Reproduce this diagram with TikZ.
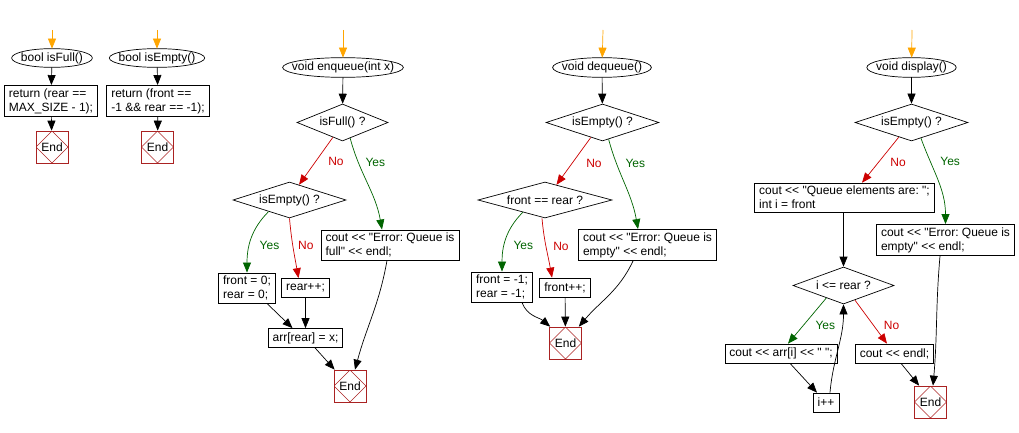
\documentclass[tikz,border=0pt]{standalone}
\usepackage{fontspec}
\newfontfamily\flowfont{Liberation Sans}
\usetikzlibrary{arrows.meta,shapes.geometric,calc}
\definecolor{endred}{RGB}{170,34,34}
\definecolor{yesgreen}{RGB}{0,100,0}
\definecolor{nored}{RGB}{204,0,0}
\definecolor{entryorange}{RGB}{255,165,0}
\frenchspacing

\begin{document}
\begin{tikzpicture}[x=1pt, y=1pt, line width=0.7pt,
    font=\flowfont\fontsize{12}{14}\selectfont,
    func/.style = {inner xsep=9pt, inner ysep=0pt, minimum height=19pt},
    stmt/.style = {draw, align=left, inner xsep=4.5pt, inner ysep=3pt, minimum height=19pt},
    decision/.style = {draw, diamond, inner sep=0pt},
    finish/.style = {draw=endred, minimum size=32pt, inner sep=0pt,
        path picture={\draw[endred, line width=0.5pt] (path picture bounding box.north) -- (path picture bounding box.east)
            -- (path picture bounding box.south) -- (path picture bounding box.west) -- cycle;}},
    flow/.style = {-{Triangle[length=10pt,width=8pt]}},
    entry/.style = {flow, entryorange},
    yesflow/.style = {flow, yesgreen},
    noflow/.style = {flow, nored}]
    \useasboundingbox (0,0) rectangle (1019,-433);

    % bool isFull()
    \coordinate (fullin) at (52,-30);
    \node[func, minimum height=18pt] (fullstart) at (52,-58) {bool isFull()};
    \node[stmt] (fullret) at (51,-101) {return (rear ==\\MAX\_SIZE - 1);};
    \node[finish] (fullend) at (52,-147) {End};

    % bool isEmpty()
    \coordinate (emptyin) at (157,-30);
    \node[func, minimum height=18pt] (emptystart) at (157,-58) {bool isEmpty()};
    \node[stmt] (emptyret) at (158,-101) {return (front ==\\-1 \&\& rear == -1);};
    \node[finish] (emptyend) at (157.5,-147) {End};

    % void enqueue(int x)
    \coordinate (enqin) at (343,-30);
    \node[func] (enqstart) at (343,-67.5) {void enqueue(int x)};
    \node[decision, minimum width=91pt, minimum height=37pt, shape aspect=2.46] (enqfull) at (342.5,-122.5) {isFull() ?};
    \node[decision, minimum width=113pt, minimum height=36pt, shape aspect=3.1] (enqempty) at (289.5,-200) {isEmpty() ?};
    \node[stmt] (enqerr) at (390,-245) {cout << "Error: Queue is\\full" << endl;};
    \node[stmt] (enqinit) at (247,-288) {front = 0;\\rear = 0;};
    \node[stmt] (enqrear) at (305.5,-288) {rear++;};
    \node[stmt] (enqset) at (305.5,-338) {arr[rear] = x;};
    \node[finish] (enqend) at (350,-386) {End};

    % void dequeue()
    \coordinate (deqin) at (603,-30);
    \node[func] (deqstart) at (602,-67.5) {void dequeue()};
    \node[decision, minimum width=113pt, minimum height=37pt, shape aspect=3.05] (deqempty) at (602.5,-122.5) {isEmpty() ?};
    \node[decision, minimum width=134pt, minimum height=36pt, shape aspect=3.7] (deqone) at (545,-200) {front == rear ?};
    \node[stmt] (deqerr) at (647.5,-245) {cout << "Error: Queue is\\empty" << endl;};
    \node[stmt] (deqreset) at (502,-287) {front = -1;\\rear = -1;};
    \node[stmt] (deqfront) at (565,-287.5) {front++;};
    \node[finish] (deqend) at (565.5,-343) {End};

    % void display()
    \coordinate (dispin) at (912,-30);
    \node[func] (dispstart) at (911.5,-67.5) {void display()};
    \node[decision, minimum width=113pt, minimum height=37pt, shape aspect=3.05] (dispempty) at (911.5,-122.5) {isEmpty() ?};
    \node[stmt] (dispinit) at (844.5,-197.5) {cout << "Queue elements are: ";\\int i = front};
    \node[stmt] (disperr) at (945.5,-240) {cout << "Error: Queue is\\empty" << endl;};
    \node[decision, minimum width=101pt, minimum height=37pt, shape aspect=2.73] (displ) at (843.5,-285.5) {i <= rear ?};
    \node[stmt] (dispprint) at (781,-353.5) {cout << arr[i] << " ";};
    \node[stmt] (dispendl) at (894.5,-353.5) {cout << endl;};
    \node[stmt] (dispinc) at (826,-402.5) {i++};
    \node[finish] (dispend) at (930.5,-402) {End};

    \foreach \f in {fullstart, emptystart, enqstart, deqstart, dispstart}
        \draw let \p1 = ($(\f.east)-(\f.west)$), \p2 = ($(\f.north)-(\f.south)$) in
            (\f.center) ellipse [x radius=0.5*\x1, y radius=0.5*\y2];

    \path[entry] (fullin) edge (fullstart)
        (emptyin) edge (emptystart)
        (enqin) edge (enqstart)
        (deqin) edge (deqstart)
        (dispin) edge (dispstart);

    \path[flow] (fullstart) edge (fullret)
        (fullret) edge (fullend)
        (emptystart) edge (emptyret)
        (emptyret) edge (emptyend);

    \path[flow] (enqstart) edge (enqfull);
    \path[noflow] (enqfull.237) edge node[xshift=20pt] {No} (enqempty.58);
    \path[yesflow] (enqfull.296) edge[out=-75, in=100] node[pos=0.25, xshift=17pt] {Yes} ([xshift=-8pt]enqerr.north);
    \path[yesflow] (enqempty.209) edge[out=225, in=90] node[pos=0.6, xshift=20pt] {Yes} (enqinit);
    \path[noflow] (enqempty.south) edge[out=-85, in=100] node[pos=0.45, xshift=13pt] {No} ([xshift=-7pt]enqrear.north);
    \path[flow] ([xshift=20pt]enqinit.south) edge ([xshift=-13pt]enqset.north)
        (enqrear) edge (enqset)
        ([xshift=9.5pt]enqset.south) edge ([xshift=1pt]enqend.north west)
        ([xshift=-3pt]enqerr.south) edge[out=-100, in=75] ([xshift=5pt]enqend.north);

    \path[flow] (deqstart) edge (deqempty);
    \path[noflow] (deqempty.232) edge node[pos=0.55, xshift=22pt] {No} (deqone.53);
    \path[yesflow] (deqempty.290) edge[out=-75, in=100] node[pos=0.25, xshift=19pt] {Yes} ([xshift=-9.5pt]deqerr.north);
    \path[yesflow] (deqone.209) edge[out=225, in=90] node[pos=0.6, xshift=19pt] {Yes} (deqreset);
    \path[noflow] ([xshift=-3pt]deqone.south) edge[out=-85, in=100] node[pos=0.47, xshift=15pt] {No} ([xshift=-13pt]deqfront.north);
    \path[flow] ([xshift=20pt]deqreset.south) edge[out=-70, in=140] ([xshift=1pt]deqend.north west)
        (deqfront) edge (deqend)
        ([xshift=-14.5pt]deqerr.south) edge[out=-115, in=50] ([xshift=-3pt]deqend.north east);

    \path[flow] (dispstart) edge (dispempty);
    \path[noflow] (dispempty.229) edge node[pos=0.55, xshift=19.5pt] {No} ([xshift=17.5pt]dispinit.north);
    \path[yesflow] (dispempty.301) edge[out=-70, in=90] node[pos=0.26, xshift=20pt] {Yes} (disperr);
    \path[flow] (dispinit.south -| displ.north) edge (displ);
    \path[yesflow] (displ.216) edge node[pos=0.6, xshift=22pt] {Yes} ([xshift=7pt]dispprint.north);
    \path[noflow] (displ.308) edge node[pos=0.58, xshift=18pt] {No} ([xshift=-7.5pt]dispendl.north);
    \path[flow] ([xshift=9pt]dispprint.south) edge ([xshift=-9pt]dispinc.north)
        ([xshift=4pt]dispinc.north) edge[out=85, in=-90] (displ.south)
        ([xshift=6.5pt]dispendl.south) edge ([xshift=5pt]dispend.north west)
        ([xshift=-5.5pt]disperr.south) edge[out=-95, in=85] ([xshift=2.5pt]dispend.north);
\end{tikzpicture}
\end{document}
